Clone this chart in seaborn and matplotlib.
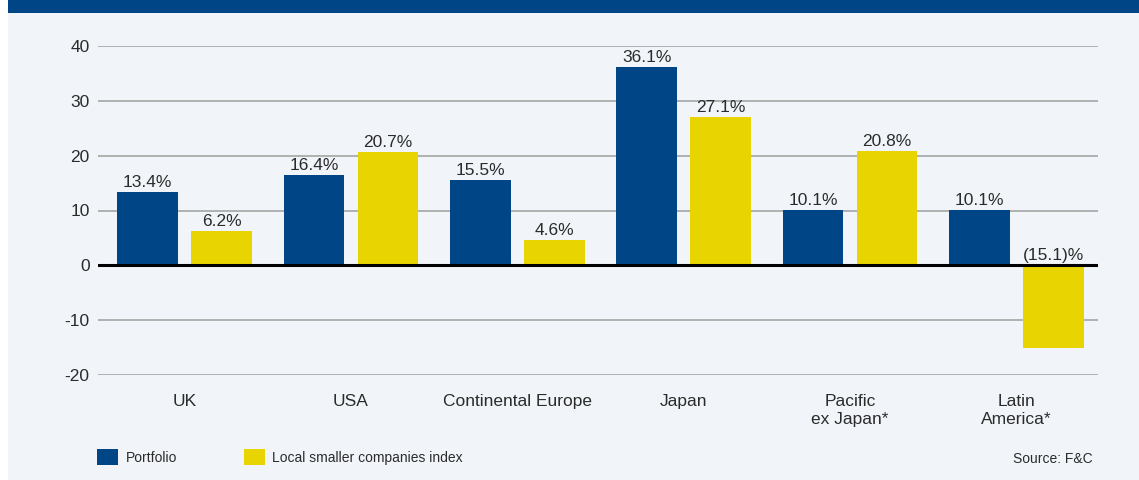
import pandas as pd
import numpy as np
import matplotlib.pyplot as plt
import seaborn as sns
from matplotlib.patches import Rectangle, Patch

# data
regions = ['UK', 'USA', 'Continental Europe', 'Japan', 'Pacific\nex Japan*', 'Latin\nAmerica*']
portfolio = [13.4, 16.4, 15.5, 36.1, 10.1, 10.1]
local_index = [6.2, 20.7, 4.6, 27.1, 20.8, -15.1]
series_names = ['Portfolio', 'Local smaller companies index']
y_ticks = [-20, -10, 0, 10, 20, 30, 40]

NAVY = '#004687'
YELLOW = '#E8D400'
BG = '#F1F5F9'
TXT = '#2b2b2b'

sns.set_style('white')
plt.rcParams['font.family'] = ['Liberation Sans', 'DejaVu Sans']

df = pd.DataFrame({
    'region': regions * 2,
    'value': portfolio + local_index,
    'series': [series_names[0]] * len(regions) + [series_names[1]] * len(regions),
})

fig = plt.figure(figsize=(11.39, 4.8), dpi=100)
fig.patch.set_facecolor('white')
# background panel and top band
fig.add_artist(Rectangle((8 / 1139, 0), 1, 1 - 13 / 480, transform=fig.transFigure,
                         facecolor=BG, edgecolor='none', zorder=-10))
fig.add_artist(Rectangle((8 / 1139, 1 - 13 / 480), 1, 13 / 480, transform=fig.transFigure,
                         facecolor=NAVY, edgecolor='none', zorder=-10))

ax = fig.add_axes([98 / 1139, 1 - 375 / 480, 1000 / 1139, 329 / 480])
ax.set_facecolor('none')

sns.barplot(data=df, x='region', y='value', hue='series', order=regions,
            hue_order=series_names, palette=[NAVY, YELLOW], width=0.89, gap=0.18,
            saturation=1, linewidth=0, legend=False, ax=ax, zorder=3)

ax.set_ylim(-20, 40)
ax.set_xlim(-0.52, len(regions) - 0.51)
ax.set_yticks(y_ticks)
ax.set_yticklabels([str(t) for t in y_ticks])
ax.grid(axis='y', color='#ababab', linewidth=1.3, zorder=0)
ax.axhline(0, color='black', linewidth=2.2, zorder=4)
for s in ax.spines.values():
    s.set_visible(False)
ax.tick_params(axis='y', length=3, width=1.2, color='#555555', pad=3,
               labelsize=12.5, labelcolor=TXT)
ax.tick_params(axis='x', length=0, pad=14, labelsize=12.5, labelcolor=TXT)
ax.set_xlabel('')
ax.set_ylabel('')

# value labels
for cont in ax.containers:
    for bar in cont:
        h = bar.get_height()
        txt = f'{h:.1f}%' if h >= 0 else f'({abs(h):.1f})%'
        ax.text(bar.get_x() + bar.get_width() / 2, max(h, 0) + 0.4, txt,
                ha='center', va='bottom', fontsize=12.5, color=TXT, zorder=5)

handles = [Patch(facecolor=NAVY, edgecolor='none'), Patch(facecolor=YELLOW, edgecolor='none')]
fig.legend(handles, series_names, loc='center left', bbox_to_anchor=(85 / 1139, 1 - 457 / 480),
           ncol=2, frameon=False, fontsize=10, handlelength=1.5, handleheight=1.5,
           handletextpad=0.55, columnspacing=4.8, labelcolor=TXT)

fig.text(1093 / 1139, 1 - 459 / 480, 'Source: F&C', ha='right', va='center',
         fontsize=10, color=TXT)

plt.savefig('out.png', dpi=100, facecolor=fig.get_facecolor())
